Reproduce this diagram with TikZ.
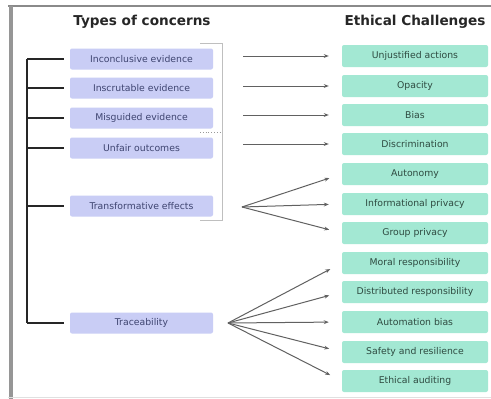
\documentclass[tikz,border=0pt]{standalone}
\usepackage{fontspec}
\setmainfont{DejaVu Sans}
\usetikzlibrary{arrows.meta}
\definecolor{lav}{HTML}{C9CDF5}
\definecolor{mint}{HTML}{A3E8D3}
\definecolor{lavtext}{HTML}{3E4470}
\definecolor{minttext}{HTML}{2E4A40}
\definecolor{framegray}{HTML}{8A8A8A}
\tikzset{
  concern/.style={fill=lav, draw=none, rounded corners=2pt, minimum width=143pt, minimum height=21pt, inner sep=0pt, text=lavtext, font=\fontsize{9.3}{10}\selectfont},
  challenge/.style={fill=mint, draw=none, rounded corners=2pt, minimum width=146pt, minimum height=22pt, inner sep=0pt, text=minttext, font=\fontsize{9.3}{10}\selectfont},
  title/.style={font=\bfseries\fontsize{13.6}{15}\selectfont, text=black!85, inner sep=0pt},
  arr/.style={draw=black!62, line width=1pt, -{Stealth[length=5pt,width=3.8pt]}, shorten >=13pt},
  brace/.style={draw=black!85, line width=2pt},
  thinbrace/.style={draw=black!25, line width=0.7pt}
}
\begin{document}
\begin{tikzpicture}[x=1pt, y=-1pt]
\fill[white] (0,0) rectangle (491,399);
\useasboundingbox (0,0) rectangle (491,399);
% frame
\draw[framegray, line width=2pt] (8,6) -- (491,6);
\draw[framegray!90, line width=4pt] (11,6) -- (11,399);
\draw[black!12, line width=1pt] (8,397) -- (491,397);
% titles
\node[title] (t1) at (142,22) {Types of concerns};
\node[title] (t2) at (415,22) {Ethical Challenges};
% left boxes
\node[concern] (l1) at (141.5,59) {Inconclusive evidence};
\node[concern] (l2) at (141.5,88) {Inscrutable evidence};
\node[concern] (l3) at (141.5,118) {Misguided evidence};
\node[concern] (l4) at (141.5,148) {Unfair outcomes};
\node[concern] (l5) at (141.5,206) {Transformative effects};
\node[concern] (l6) at (141.5,323) {Traceability};
% right boxes
\node[challenge] (r1) at (415,56) {Unjustified actions};
\node[challenge] (r2) at (415,86) {Opacity};
\node[challenge] (r3) at (415,115) {Bias};
\node[challenge] (r4) at (415,144) {Discrimination};
\node[challenge] (r5) at (415,174) {Autonomy};
\node[challenge] (r6) at (415,204) {Informational privacy};
\node[challenge] (r7) at (415,233) {Group privacy};
\node[challenge] (r8) at (415,263) {Moral responsibility};
\node[challenge] (r9) at (415,292) {Distributed responsibility};
\node[challenge] (r10) at (415,322) {Automation bias};
\node[challenge] (r11) at (415,352) {Safety and resilience};
\node[challenge] (r12) at (415,381) {Ethical auditing};
% black bracket
\coordinate (bt) at (27,59);
\coordinate (bb) at (27,323);
\draw[brace] (bt) -- (bb);
\foreach \i in {1,...,6}{
  \draw[brace, shorten >=6pt] (bt |- l\i.west) -- (l\i.west);
}
% thin gray bracket
\coordinate (g1) at (200,43);
\coordinate (g2) at (222,43);
\coordinate (g3) at (222,220);
\coordinate (g4) at (200,220);
\draw[thinbrace] (g1) -- (g2) -- (g3) -- (g4);
\coordinate (gd1) at (200,132);
\coordinate (gd2) at (222,132);
\draw[black!40, line width=0.8pt, dotted] (gd1) -- (gd2);
% horizontal arrows
\foreach \i in {1,...,4}{
  \coordinate (s\i) at (243,0);
  \draw[arr] (s\i |- r\i.west) -- (r\i.west);
}
% transformative fan
\coordinate (ft) at (242,207);
\foreach \i in {5,6,7}{
  \draw[arr] (ft) -- (r\i.west);
}
% traceability fan
\coordinate (fr) at (228,323);
\foreach \i in {8,...,12}{
  \draw[arr] (fr) -- (r\i.west);
}
\end{tikzpicture}
\end{document}
